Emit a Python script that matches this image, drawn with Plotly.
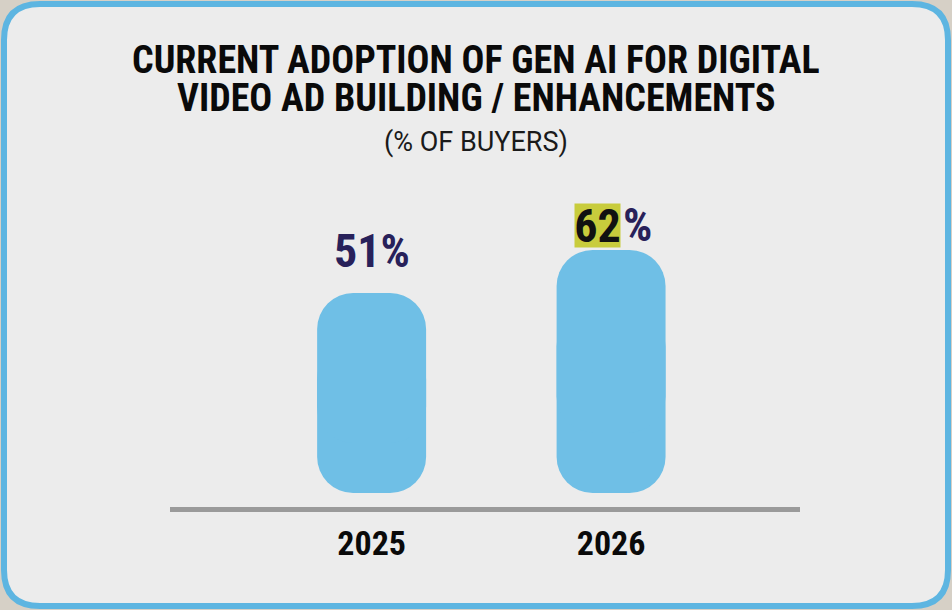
import plotly.graph_objects as go

# data
years = ["2025", "2026"]
shares = [51, 62]
highlight_year = "2026"

title_lines = ["CURRENT ADOPTION OF GEN AI FOR DIGITAL",
               "VIDEO AD BUILDING / ENHANCEMENTS"]
subtitle = "(% OF BUYERS)"

W, H = 952, 610
COND = "Roboto Condensed, Liberation Sans Narrow, DejaVu Sans Condensed, Roboto, sans-serif"
BAR = "#6fbfe6"
NAVY = "#28215a"

fig = go.Figure()

# two overlapping pieces per bar so both ends come out rounded
low_top = [0.75 * v for v in shares]
up_base = [0.25 * v for v in shares]
fig.add_trace(go.Bar(x=years, y=[-t for t in low_top], base=low_top, width=0.455,
                     marker=dict(color=BAR, cornerradius=36, line_width=0),
                     hoverinfo="skip"))
fig.add_trace(go.Bar(x=years, y=[v - b for v, b in zip(shares, up_base)], base=up_base,
                     width=0.455, marker=dict(color=BAR, cornerradius=36, line_width=0),
                     hoverinfo="skip"))

# value labels (x given as category index)
for i, (yr, v) in enumerate(zip(years, shares)):
    if yr == highlight_year:
        fig.add_annotation(x=i, y=v, text=f"{v}", xanchor="right", yanchor="bottom",
                           xshift=10, yshift=2, showarrow=False, bgcolor="#c8cc3c",
                           borderpad=0, height=43, width=45, valign="middle",
                           font=dict(family=COND, size=46, color="#111111", weight="bold"))
        fig.add_annotation(x=i, y=v, text="%", xanchor="left", yanchor="bottom",
                           xshift=10, yshift=2, showarrow=False, height=43, valign="middle",
                           font=dict(family=COND, size=46, color=NAVY, weight="bold"))
    else:
        fig.add_annotation(x=i, y=v, text=f"{v}%", yanchor="bottom", yshift=13,
                           showarrow=False,
                           font=dict(family=COND, size=46, color=NAVY, weight="bold"))

# titles
fig.add_annotation(x=0.5, y=1 - 59 / H, xref="paper", yref="paper", text=title_lines[0],
                   showarrow=False, yanchor="middle", height=35,
                   font=dict(family=COND, size=38, color="#0a0a0a", weight="bold"))
fig.add_annotation(x=0.5, y=1 - 97.5 / H, xref="paper", yref="paper", text=title_lines[1],
                   showarrow=False, yanchor="middle", height=35,
                   font=dict(family=COND, size=38, color="#0a0a0a", weight="bold"))
fig.add_annotation(x=0.5, y=1 - 142 / H, xref="paper", yref="paper", text=subtitle,
                   showarrow=False, yanchor="middle",
                   font=dict(family="Roboto, sans-serif", size=27, color="#1a1a1a"))

# card with rounded corners and blue border
x0, x1 = 4 / W, 948 / W
y0, y1 = 1 - 606 / H, 1 - 4 / H
rx, ry = 36 / W, 36 / H
path = (f"M {x0 + rx} {y1} L {x1 - rx} {y1} Q {x1} {y1} {x1} {y1 - ry} "
        f"L {x1} {y0 + ry} Q {x1} {y0} {x1 - rx} {y0} "
        f"L {x0 + rx} {y0} Q {x0} {y0} {x0} {y0 + ry} "
        f"L {x0} {y1 - ry} Q {x0} {y1} {x0 + rx} {y1} Z")
fig.add_shape(type="path", path=path, xref="paper", yref="paper",
              fillcolor="#ececec", line=dict(color="#5db5e1", width=6), layer="below")

scale = 3.92
zero_px = 493
bottom_px, top_px = 507, 180
fig.update_layout(
    width=W, height=H,
    margin=dict(l=0, r=0, t=0, b=0),
    paper_bgcolor="#d6d0c6",
    plot_bgcolor="rgba(0,0,0,0)",
    barmode="overlay",
    showlegend=False,
    xaxis=dict(domain=[170 / W, 800 / W], range=[-0.842, 1.789], type="category",
               showline=True, linecolor="#9a9a9a", linewidth=5, showgrid=False,
               ticks="", ticklabelstandoff=2,
               tickfont=dict(family=COND, size=34, color="#0a0a0a", weight="bold")),
    yaxis=dict(domain=[1 - bottom_px / H, 1 - top_px / H],
               range=[-(bottom_px - zero_px) / scale, (zero_px - top_px) / scale],
               visible=False),
)

fig.write_html("out.html", config={"displayModeBar": False},
               post_script="document.body.style.margin='0';")
